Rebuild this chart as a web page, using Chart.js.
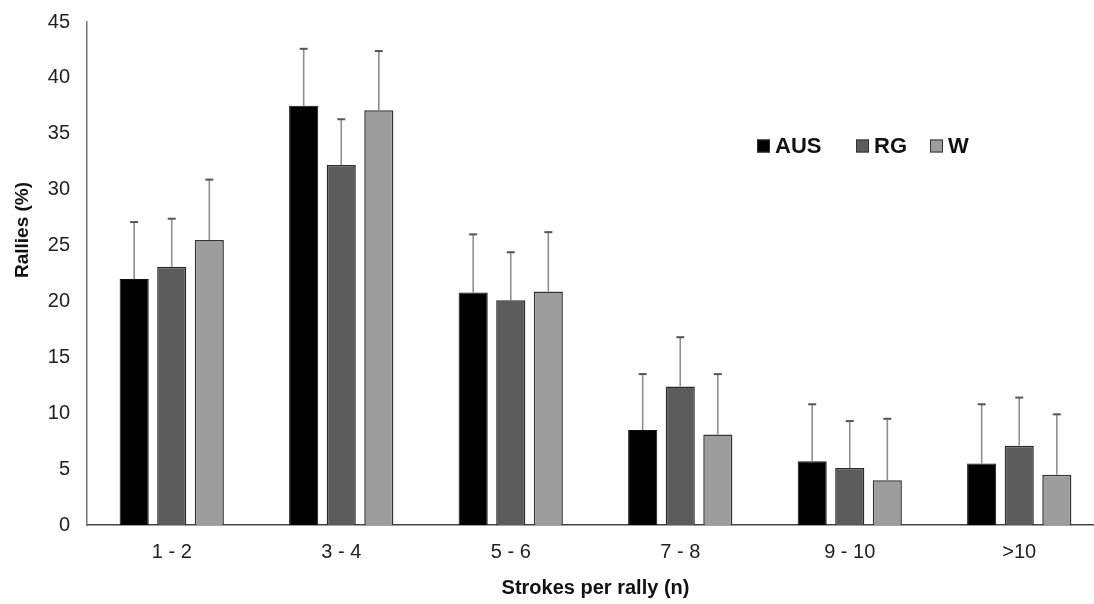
<!DOCTYPE html>
<html>
<head>
<meta charset="utf-8">
<script src="https://cdn.jsdelivr.net/npm/chart.js@4/dist/chart.umd.min.js"></script>
<style>
html,body{margin:0;padding:0;background:#fff;overflow:hidden;width:1094px;height:604px;}
#wrap{position:absolute;left:0;top:0;width:1108px;height:604px;}
</style>
</head>
<body>
<div id="wrap"><canvas id="c" width="1108" height="604"></canvas></div>
<script>
const categories = ["1 - 2", "3 - 4", "5 - 6", "7 - 8", "9 - 10", ">10"];
const seriesNames = ["AUS", "RG", "W"];
const ausMean = [22.0, 37.5, 20.8, 8.5, 5.7, 5.5];
const ausSD   = [5.1, 5.1, 5.2, 5.0, 5.1, 5.3];
const rgMean  = [23.1, 32.2, 20.1, 12.4, 5.1, 7.1];
const rgSD    = [4.3, 4.1, 4.3, 4.4, 4.2, 4.3];
const wMean   = [25.5, 37.1, 20.9, 8.1, 4.0, 4.5];
const wSD     = [5.4, 5.3, 5.3, 5.4, 5.5, 5.4];
const yTicks  = [0, 5, 10, 15, 20, 25, 30, 35, 40, 45];
const yTitle = "Rallies (%)";
const xTitle = "Strokes per rally (n)";

const FONT = "'Liberation Sans', Arial, sans-serif";

const errorBars = {
  id: 'errorBars',
  afterDatasetsDraw(chart) {
    const ctx = chart.ctx;
    const y = chart.scales.y;
    chart.data.datasets.forEach((ds, i) => {
      const meta = chart.getDatasetMeta(i);
      meta.data.forEach((bar, j) => {
        const v = ds.data[j], sd = ds.sd[j];
        const yTop = y.getPixelForValue(v + sd);
        const yBase = y.getPixelForValue(v);
        ctx.save();
        ctx.strokeStyle = '#8f8f8f';
        ctx.lineWidth = 1.6;
        ctx.beginPath();
        ctx.moveTo(bar.x, yBase);
        ctx.lineTo(bar.x, yTop);
        ctx.stroke();
        ctx.strokeStyle = '#555';
        ctx.lineWidth = 2;
        ctx.beginPath();
        ctx.moveTo(bar.x - 4, yTop);
        ctx.lineTo(bar.x + 4, yTop);
        ctx.stroke();
        ctx.restore();
      });
    });
  }
};

const customLegend = {
  id: 'customLegend',
  afterDraw(chart) {
    const ctx = chart.ctx;
    ctx.save();
    ctx.font = "bold 22px " + FONT;
    ctx.textBaseline = 'middle';
    const starts = [757, 856, 930];
    const py = 146;
    chart.data.datasets.forEach((ds, i) => {
      const px = starts[i];
      ctx.fillStyle = ds.backgroundColor;
      ctx.strokeStyle = '#333';
      ctx.lineWidth = 1;
      ctx.fillRect(px, py - 6.5, 13, 13);
      ctx.strokeRect(px + 0.5, py - 6, 12, 12);
      ctx.fillStyle = '#111';
      ctx.fillText(ds.label, px + 18, py + 1);
    });
    ctx.font = "bold 19px " + FONT;
    ctx.fillStyle = '#111';
    ctx.translate(23, 230);
    ctx.rotate(-Math.PI / 2);
    ctx.textAlign = 'center';
    ctx.textBaseline = 'middle';
    ctx.fillText(yTitle, 0, 0);
    ctx.restore();
  }
};

new Chart(document.getElementById('c'), {
  type: 'bar',
  data: {
    labels: categories,
    datasets: [
      { label: seriesNames[0], data: ausMean, sd: ausSD, backgroundColor: '#000000', borderColor: '#111', borderWidth: 1 },
      { label: seriesNames[1], data: rgMean, sd: rgSD, backgroundColor: '#5c5c5c', borderColor: '#2a2a2a', borderWidth: 1.5 },
      { label: seriesNames[2], data: wMean, sd: wSD, backgroundColor: '#9d9d9d', borderColor: '#333', borderWidth: 1.5 }
    ]
  },
  options: {
    responsive: false,
    animation: false,
    devicePixelRatio: 1,
    categoryPercentage: 0.665,
    barPercentage: 0.775,
    layout: { padding: { top: 22, right: 4, left: 0, bottom: 0 } },
    plugins: {
      legend: { display: false },
      tooltip: { enabled: false }
    },
    scales: {
      x: {
        grid: { display: false, drawTicks: false },
        border: { display: true, color: '#444', width: 1.5 },
        ticks: { color: '#222', font: { family: FONT, size: 20 }, padding: 15 },
        title: { display: true, text: xTitle, color: '#111', font: { family: FONT, size: 20, weight: 'bold' }, padding: { top: 0, bottom: 4 } },
        afterFit(scale) { scale.height = 79; scale.paddingLeft = 0; scale.paddingRight = 0; }
      },
      y: {
        min: 0, max: 45,
        afterBuildTicks(scale) { scale.ticks = yTicks.map(v => ({ value: v })); },
        grid: { display: false, drawTicks: false },
        border: { display: true, color: '#777', width: 1.5 },
        ticks: { color: '#222', font: { family: FONT, size: 20 }, padding: 17 },
        afterFit(scale) { scale.width = 87; scale.paddingTop = 0; scale.paddingBottom = 0; }
      }
    }
  },
  plugins: [errorBars, customLegend]
});
</script>
</body>
</html>
